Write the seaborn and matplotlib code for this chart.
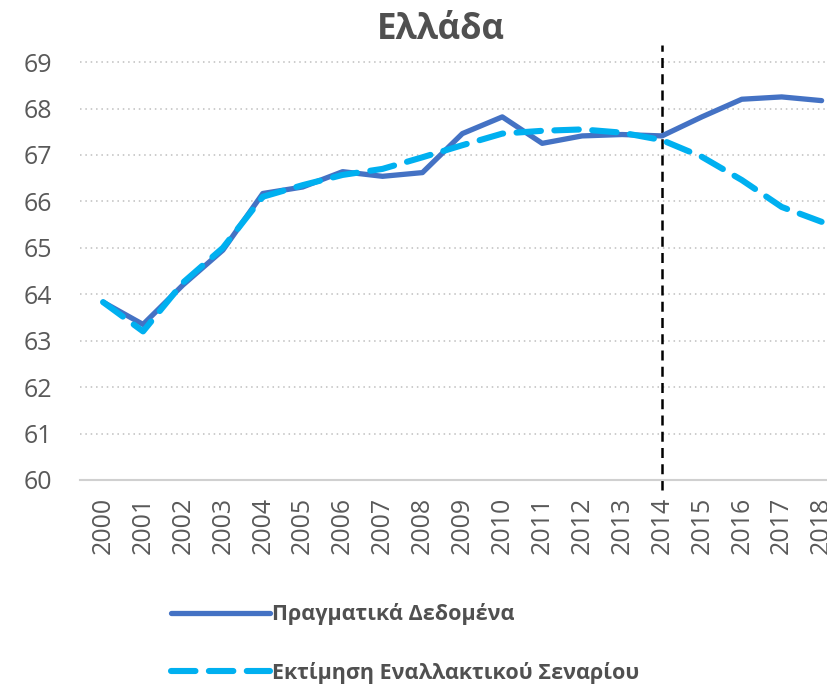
import matplotlib
matplotlib.use("Agg")
import matplotlib.pyplot as plt
import seaborn as sns
import pandas as pd

# data
years = list(range(2000, 2019))
actual = [63.83, 63.35, 64.2, 64.95, 66.17, 66.31, 66.64, 66.54, 66.62, 67.46,
          67.82, 67.25, 67.41, 67.44, 67.41, 67.82, 68.2, 68.25, 68.17]
scenario = [63.83, 63.2, 64.25, 65.0, 66.1, 66.35, 66.57, 66.7, 66.95, 67.21,
            67.46, 67.52, 67.55, 67.48, 67.32, 66.96, 66.46, 65.88, 65.56]
labels = ["Πραγματικά Δεδομένα", "Εκτίμηση Εναλλακτικού Σεναρίου"]
title = "Ελλάδα"
cut_year = 2014

sns.set_theme(style="white")
plt.rcParams['font.family'] = ['Open Sans', 'DejaVu Sans']

df = pd.DataFrame({"year": years, labels[0]: actual, labels[1]: scenario})

fig = plt.figure(figsize=(8.28, 6.91), dpi=100)
ax = fig.add_axes([0.0966, 0.3054, 0.9034, 0.6296])

sns.lineplot(data=df, x="year", y=labels[0], ax=ax, color="#4472C4",
             linewidth=3.8, label=labels[0], solid_capstyle="round")
sns.lineplot(data=df, x="year", y=labels[1], ax=ax, color="#00B0F0",
             linewidth=4.4, label=labels[1])
ax.lines[1].set_dashes((4, 2.2))
ax.lines[1].set_dash_capstyle("round")

ax.set_xlim(1999.42, 2018.16)
ax.set_ylim(60, 69.37)
ax.set_yticks(range(60, 70))
ax.set_xticks(years)
ax.set_xticklabels([str(y) for y in years], rotation=90)
ax.tick_params(axis="both", labelsize=18, colors="#595959", length=0)
ax.tick_params(axis="x", pad=12)
ax.tick_params(axis="y", pad=20)
ax.set_xlabel("")
ax.set_ylabel("")

# dotted horizontal gridlines
for v in range(61, 70):
    ax.axhline(v, color="#BFBFBF", linestyle=(0, (1, 2.5)), linewidth=1.1, zorder=0)

for s in ["top", "right", "left"]:
    ax.spines[s].set_visible(False)
ax.spines["bottom"].set_color("#D0D0D0")
ax.spines["bottom"].set_linewidth(1.5)

# vertical marker at 2014
ax.plot([cut_year, cut_year], [59.78, 69.37], color="black", linewidth=1.8,
        linestyle=(0, (4, 2.5)), clip_on=False, zorder=1)

ax.set_title(title, fontsize=25, fontweight="bold", color="#505050", pad=4)
ax.title.set_position((0.483, 1.0))

ax.get_legend().remove()
h, l = ax.get_legend_handles_labels()
fig.legend(h, l, loc="upper left", bbox_to_anchor=(0.183, 0.155),
           frameon=False, handlelength=4.6, handletextpad=0.1,
           labelspacing=1.7, prop={"size": 15.5, "weight": "bold"},
           labelcolor="#505050")

fig.savefig("out.png", dpi=100)
